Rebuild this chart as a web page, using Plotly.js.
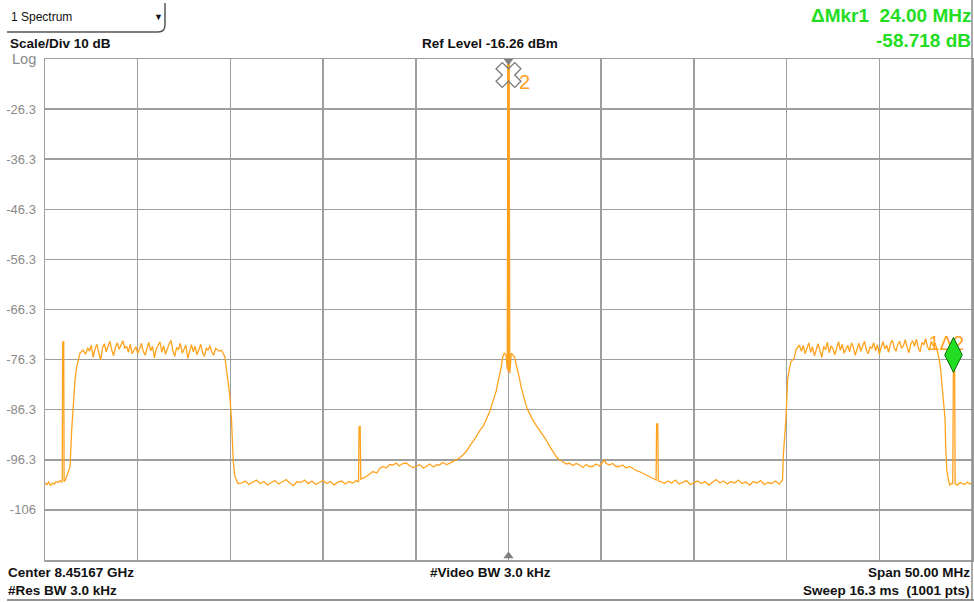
<!DOCTYPE html>
<html>
<head>
<meta charset="utf-8">
<script src="https://cdn.plot.ly/plotly-3.0.1.min.js"></script>
<style>
  html, body { margin: 0; padding: 0; background: #ffffff; overflow: hidden; }
  #chart { width: 974px; height: 602px; }
</style>
</head>
<body>
<div id="chart"></div>
<script>
// ---- Instrument settings ----
const refLevelDbm = -16.26;
const dbPerDiv = 10;
const spanMHz = 50;

// ---- Markers ----
const marker2MHz = 0.00;      // carrier peak (reference marker)
const marker2Dbm = -16.602;
const marker1MHz = 24.00;     // delta marker
const marker1Dbm = -75.320;
const carrierNotchDbm = -78.6; // bottom of the carrier line inside the phase-noise skirt

// ---- Y tick labels (one per graticule line below the reference) ----
const yTickValues = [-26.26, -36.26, -46.26, -56.26, -66.26, -76.26, -86.26, -96.26, -106.26];
const yTickLabels = ['-26.3', '-36.3', '-46.3', '-56.3', '-66.3', '-76.3', '-86.3', '-96.3', '-106'];
const xGridMHz = [-20, -15, -10, -5, 0, 5, 10, 15, 20];

// ---- Trace: [offset from centre MHz, level dBm] ----
const lowerFloor = [
  [-25.0,-100.9],[-24.9,-101.2],[-24.8,-100.7],[-24.7,-101.4],[-24.6,-100.9],[-24.5,-101.1],
  [-24.4,-100.6],[-24.3,-100.8],[-24.2,-100.4],[-24.1,-100.7],[-24.07,-100.5],
  [-24.05,-72.75],[-23.99,-72.75],[-23.97,-100.6],[-23.90,-100.3]
];
const lowerChannel = [
  [-23.83,-99.6],[-23.65,-97.64],[-23.56,-90.3],[-23.48,-84.9],[-23.38,-80.3],[-23.29,-77.7],
  [-23.21,-76.7],[-23.11,-74.95],[-22.95,-74.35],
  [-22.8,-75.2],[-22.7,-73.9],[-22.6,-74.6],[-22.5,-73.4],[-22.4,-75.8],[-22.3,-74.1],[-22.2,-73.2],
  [-22.1,-74.9],[-22.0,-76.3],[-21.9,-74.0],[-21.8,-73.1],[-21.7,-74.7],[-21.6,-73.5],[-21.5,-72.6],
  [-21.4,-74.3],[-21.3,-75.5],[-21.2,-73.8],[-21.1,-72.9],[-21.0,-74.2],[-20.9,-73.3],[-20.8,-72.5],
  [-20.7,-74.0],[-20.6,-73.6],[-20.5,-74.8],[-20.4,-73.2],[-20.3,-75.1],[-20.2,-74.4],[-20.1,-73.7],
  [-20.0,-75.0],[-19.9,-74.2],[-19.8,-73.0],[-19.7,-74.6],[-19.6,-75.4],[-19.5,-73.9],[-19.4,-72.8],
  [-19.3,-74.5],[-19.2,-73.6],[-19.1,-75.9],[-19.0,-74.1],[-18.9,-73.4],[-18.8,-72.7],[-18.7,-74.8],
  [-18.6,-73.5],[-18.5,-75.2],[-18.4,-74.0],[-18.3,-73.1],[-18.2,-72.4],[-18.1,-74.6],[-18.0,-75.6],
  [-17.9,-73.8],[-17.8,-74.3],[-17.7,-73.0],[-17.6,-75.0],[-17.5,-74.1],[-17.4,-73.4],[-17.3,-76.0],
  [-17.2,-74.5],[-17.1,-73.3],[-17.0,-74.7],[-16.9,-73.6],[-16.8,-75.3],[-16.7,-74.2],[-16.6,-73.2],
  [-16.5,-74.9],[-16.4,-75.6],[-16.3,-73.9],[-16.2,-74.4],[-16.1,-73.5],[-16.0,-74.8],[-15.9,-75.4],
  [-15.8,-74.0],[-15.7,-74.3],[-15.6,-74.6],
  [-15.48,-74.35],[-15.30,-75.7],[-15.12,-80.9],[-15.03,-83.6],[-14.94,-88.3],[-14.85,-96.3],
  [-14.76,-99.6],[-14.59,-101.0]
];
const innerFloorLow = [
  [-14.4,-100.9],[-14.2,-100.5],[-14.0,-101.2],[-13.8,-100.7],[-13.6,-100.3],[-13.4,-101.0],
  [-13.2,-100.6],[-13.0,-101.3],[-12.8,-100.8],[-12.6,-100.4],[-12.4,-101.1],[-12.2,-100.7],
  [-12.0,-100.2],[-11.8,-100.9],[-11.6,-101.4],[-11.4,-100.6],[-11.2,-100.8],[-11.0,-100.3],
  [-10.8,-101.0],[-10.6,-100.5],[-10.4,-101.2],[-10.2,-100.8],[-10.0,-100.4],[-9.8,-101.0],
  [-9.6,-100.6],[-9.4,-101.3],[-9.2,-100.7],[-9.0,-100.5],[-8.8,-101.1],[-8.6,-100.6],
  [-8.4,-100.9],[-8.2,-100.4],[-8.09,-100.7],
  [-8.06,-89.65],[-8.00,-89.65],[-7.97,-100.2]
];
const carrierRegion = [
  [-7.9,-100.0],[-7.67,-99.6],[-7.5,-99.2],[-7.31,-98.6],[-7.1,-98.9],[-6.95,-98.0],[-6.77,-97.6],
  [-6.6,-97.9],[-6.4,-97.2],[-6.23,-97.3],[-6.05,-96.9],[-5.9,-97.5],[-5.7,-97.0],[-5.51,-96.9],
  [-5.35,-97.4],[-5.15,-97.8],[-4.97,-97.6],[-4.8,-97.2],[-4.6,-97.9],[-4.43,-97.6],[-4.25,-97.1],
  [-4.05,-97.7],[-3.9,-97.3],[-3.72,-97.3],[-3.55,-96.8],[-3.35,-97.2],[-3.18,-96.96],[-3.0,-96.6],
  [-2.82,-96.3],[-2.64,-95.9],[-2.46,-95.3],[-2.28,-94.6],[-2.10,-93.6],[-1.92,-92.7],[-1.74,-91.65],
  [-1.56,-90.5],[-1.38,-89.65],[-1.25,-88.6],[-1.12,-87.65],[-1.0,-86.5],[-0.93,-85.65],[-0.84,-84.6],
  [-0.75,-83.66],[-0.66,-82.5],[-0.58,-81.0],[-0.48,-79.4],[-0.39,-77.7],[-0.31,-75.68],[-0.22,-75.0],
  [-0.13,-75.3],[-0.07,-78.2],
  [-0.03,marker2Dbm],[0.03,marker2Dbm],
  [0.07,-79.0],[0.15,-75.0],[0.32,-75.7],[0.50,-78.3],[0.59,-80.0],[0.68,-81.7],[0.77,-83.1],
  [0.86,-84.3],[0.95,-85.4],[1.04,-86.3],[1.17,-87.4],[1.31,-88.3],[1.49,-89.4],[1.67,-90.3],
  [1.85,-91.3],[2.03,-92.3],[2.21,-93.5],[2.39,-94.6],[2.57,-95.6],[2.75,-96.3],[2.93,-96.6],
  [3.11,-97.1],[3.29,-96.96],[3.47,-97.4],[3.65,-97.0],[3.83,-97.3],[4.01,-97.8],[4.19,-97.2],
  [4.37,-97.6],[4.54,-97.6],[4.72,-97.1],[4.90,-97.5],[5.08,-96.8],[5.18,-96.3],[5.26,-96.96],
  [5.44,-97.3],[5.62,-97.0],[5.80,-97.6],[5.98,-97.6],[6.16,-97.3],[6.34,-97.9],[6.52,-97.6],
  [6.70,-97.95],[6.88,-98.4],[7.06,-98.6],[7.24,-98.95],[7.42,-99.3],[7.60,-99.7],[7.77,-99.95],
  [7.90,-100.2],[7.96,-100.3],
  [7.99,-89.1],[8.05,-89.1],[8.08,-100.5]
];
const innerFloorHigh = [
  [8.2,-100.6],[8.4,-101.0],[8.6,-100.5],[8.8,-100.9],[9.0,-100.3],[9.2,-101.1],[9.4,-100.7],
  [9.6,-100.4],[9.8,-101.2],[10.0,-100.8],[10.2,-100.5],[10.4,-101.0],[10.6,-100.6],[10.8,-101.3],
  [11.0,-100.7],[11.2,-100.2],[11.4,-100.9],[11.6,-100.5],[11.8,-101.1],[12.0,-100.6],[12.2,-100.9],
  [12.4,-100.3],[12.6,-101.0],[12.8,-100.7],[13.0,-101.3],[13.2,-100.6],[13.4,-100.9],[13.6,-100.4],
  [13.8,-101.2],[14.0,-100.8],[14.2,-101.0],[14.4,-100.5],[14.6,-101.1],[14.78,-100.3]
];
const upperChannel = [
  [14.83,-94.97],[14.91,-91.65],[14.96,-88.3],[15.02,-83.7],[15.05,-80.3],[15.14,-78.3],
  [15.23,-76.7],[15.41,-76.0],[15.50,-74.35],[15.68,-73.35],
  [15.8,-74.6],[15.9,-73.4],[16.0,-75.1],[16.1,-74.0],[16.2,-72.9],[16.3,-74.8],[16.4,-73.7],
  [16.5,-75.5],[16.6,-74.2],[16.7,-73.1],[16.8,-74.5],[16.9,-75.8],[17.0,-73.6],[17.1,-74.3],
  [17.2,-72.8],[17.3,-74.9],[17.4,-73.5],[17.5,-74.1],[17.6,-75.3],[17.7,-73.9],[17.8,-72.7],
  [17.9,-74.4],[18.0,-73.2],[18.1,-75.0],[18.2,-74.0],[18.3,-73.4],[18.4,-74.7],[18.5,-72.9],
  [18.6,-73.8],[18.7,-75.4],[18.8,-74.2],[18.9,-73.0],[19.0,-74.6],[19.1,-73.5],[19.2,-72.6],
  [19.3,-74.3],[19.4,-75.1],[19.5,-73.7],[19.6,-74.0],[19.7,-72.9],[19.8,-74.5],[19.9,-73.3],
  [20.0,-75.2],[20.1,-73.8],[20.2,-72.7],[20.3,-74.1],[20.4,-73.4],[20.5,-74.8],[20.6,-73.0],
  [20.7,-72.4],[20.8,-73.9],[20.9,-74.6],[21.0,-73.2],[21.1,-72.6],[21.2,-74.0],[21.3,-73.5],
  [21.4,-72.3],[21.5,-73.8],[21.6,-74.9],[21.7,-73.1],[21.8,-72.5],[21.9,-73.6],[22.0,-72.2],
  [22.1,-73.9],[22.2,-74.7],[22.3,-72.8],[22.4,-73.3],[22.5,-72.1],[22.6,-73.7],[22.7,-74.4],
  [22.8,-72.6],[22.9,-73.5],[23.0,-72.9],[23.1,-74.1],[23.22,-76.0],
  [23.31,-78.3],[23.40,-81.7],[23.49,-85.7],[23.55,-88.3],[23.58,-93.6],[23.64,-98.3],
  [23.73,-100.3],[23.80,-101.3],[23.91,-100.95],[23.96,-101.1]
];
const upperFloor = [
  [marker1MHz,marker1Dbm],[24.06,marker1Dbm],[24.09,-101.0],
  [24.21,-101.3],[24.35,-100.8],[24.48,-100.95],[24.62,-101.2],[24.75,-100.7],[24.88,-101.1],[25.0,-100.9]
];

const sweep = [].concat(lowerFloor, lowerChannel, innerFloorLow, carrierRegion, innerFloorHigh, upperChannel, upperFloor);
const traceMHz = sweep.map(p => p[0]);
const traceDbm = sweep.map(p => p[1]);

// ---- Page geometry (pixels) used for the text panels around the graticule ----
const W = 974, H = 602, L = 45, R = 972, T = 59, B = 560;
const px = x => (x - L) / (R - L);
const py = y => (B - y) / (B - T);

const FONT = 'Liberation Sans, Arial, Helvetica, sans-serif';
const ORANGE = '#FFA31F';
const GREEN = '#22DD22';
const GRID = '#9e9e9e';

const xMin = -spanMHz / 2, xMax = spanMHz / 2;
const yMin = refLevelDbm - dbPerDiv * 10;
const yMax = refLevelDbm;
// marker glyph hangs just below the peak it marks
const glyphDrop = 2.85;
// delta-marker label sits slightly left of its marker
const labelLead = 0.38;

const traces = [
  {
    x: traceMHz, y: traceDbm, type: 'scatter', mode: 'lines',
    line: { color: ORANGE, width: 1.3 }, hoverinfo: 'skip'
  },
  {
    // carrier line, drawn solid over the centre graticule line
    x: [marker2MHz, marker2MHz], y: [carrierNotchDbm, marker2Dbm], type: 'scatter', mode: 'lines',
    line: { color: ORANGE, width: 2.4 }, hoverinfo: 'skip'
  },
  {
    // reference marker glyph (hollow X) on the carrier
    x: [marker2MHz], y: [marker2Dbm], yaxis: 'y2', type: 'scatter', mode: 'markers',
    marker: { symbol: 'x-open', size: 22, color: '#7a7a7a', line: { color: '#7a7a7a', width: 1.3 } },
    cliponaxis: false, hoverinfo: 'skip'
  },
  {
    // peak indicator
    x: [marker2MHz], y: [marker2Dbm], type: 'scatter', mode: 'markers',
    marker: { symbol: 'triangle-down', size: 9, color: '#808080' },
    cliponaxis: false, hoverinfo: 'skip'
  },
  {
    // centre-frequency indicator on the bottom edge
    x: [0], y: [yMin], type: 'scatter', mode: 'markers', yaxis: 'y3',
    marker: { symbol: 'triangle-up', size: 9, color: '#808080' },
    cliponaxis: false, hoverinfo: 'skip'
  },
  {
    // delta marker label, sitting under the marker glyph
    x: [marker1MHz], y: [marker1Dbm], xaxis: 'x2', type: 'scatter', mode: 'text',
    text: ['1Δ2'], textposition: 'top center',
    textfont: { family: FONT, size: 20, color: ORANGE },
    cliponaxis: false, hoverinfo: 'skip'
  },
  {
    // delta marker 1
    x: [marker1MHz], y: [marker1Dbm], xaxis: 'x3', type: 'scatter', mode: 'markers',
    marker: { symbol: 'diamond-tall', size: 25, color: GREEN, line: { color: '#0a6a0a', width: 1 } },
    cliponaxis: false, hoverinfo: 'skip'
  }
];

const deltaMHz = (marker1MHz - marker2MHz).toFixed(2);
const deltaDb = (marker1Dbm - marker2Dbm).toFixed(3);

const BOLD = { family: FONT, size: 13.5, color: '#111111', weight: 'bold' };
const GREEN_FONT = { family: FONT, size: 19, color: GREEN, weight: 'bold' };

function label(text, x, y, anchor, font) {
  return {
    text: text, xref: 'paper', yref: 'paper', x: px(x), y: py(y),
    xanchor: anchor, yanchor: 'middle', showarrow: false, borderpad: 0,
    font: font || BOLD
  };
}

const annotations = [
  label('1 Spectrum', 10, 17, 'left', { family: FONT, size: 12, color: '#111' }),
  label('▼', 158, 17, 'center', { family: FONT, size: 9, color: '#111' }),
  label('Scale/Div 10 dB', 9, 43, 'left'),
  label('Log', 11, 59, 'left', { family: FONT, size: 14.5, color: '#8a8a8a' }),
  label('Ref Level ' + refLevelDbm.toFixed(2) + ' dBm', 490, 43, 'center'),
  label('ΔMkr1  ' + deltaMHz + ' MHz', 972, 16, 'right', GREEN_FONT),
  label(deltaDb + ' dB', 972, 40, 'right', GREEN_FONT),
  label('Center 8.45167 GHz', 7, 572, 'left'),
  label('#Res BW 3.0 kHz', 7, 590, 'left'),
  label('#Video BW 3.0 kHz', 490, 572, 'center'),
  label('Span ' + spanMHz.toFixed(2) + ' MHz', 971, 572, 'right'),
  label('Sweep 16.3 ms  (1001 pts)', 971, 590, 'right'),
  {
    text: '2', x: marker2MHz, y: marker2Dbm, xref: 'x', yref: 'y', showarrow: false,
    xanchor: 'center', yanchor: 'middle', xshift: 16, yshift: -21,
    font: { family: FONT, size: 20, color: ORANGE }
  }
];

const shapes = [
  {
    // selector box outline
    type: 'path', xref: 'paper', yref: 'paper',
    path: 'M ' + px(7) + ',' + py(32) + ' L ' + px(158) + ',' + py(32) +
          ' Q ' + px(165) + ',' + py(32) + ' ' + px(165) + ',' + py(25) +
          ' L ' + px(165) + ',' + py(3),
    line: { color: '#555555', width: 1.5 }
  },
  { type: 'line', xref: 'paper', yref: 'paper', x0: 1, x1: 1, y0: py(600), y1: py(0),
    line: { color: '#8c8c8c', width: 1.5 } },
  { type: 'line', xref: 'paper', yref: 'paper', x0: px(7), x1: px(974), y0: py(600), y1: py(600),
    line: { color: '#6e6e6e', width: 1.5 } }
];

const layout = {
  width: W, height: H,
  margin: { l: L, r: W - R, t: T, b: H - B, pad: 0 },
  paper_bgcolor: '#ffffff', plot_bgcolor: '#ffffff',
  showlegend: false,
  font: { family: FONT },
  xaxis: {
    range: [xMin, xMax], fixedrange: true,
    tickmode: 'array', tickvals: xGridMHz, showticklabels: false, ticks: '',
    showgrid: true, gridcolor: GRID, gridwidth: 1.5, zeroline: false,
    showline: true, mirror: true, linecolor: GRID, linewidth: 1.5
  },
  xaxis2: { overlaying: 'x', range: [xMin + labelLead, xMax + labelLead], visible: false, fixedrange: true },
  xaxis3: { overlaying: 'x', range: [xMin, xMax], visible: false, fixedrange: true },
  yaxis: {
    range: [yMin, yMax], fixedrange: true,
    tickmode: 'array', tickvals: yTickValues, ticktext: yTickLabels,
    ticks: 'outside', ticklen: 5, tickcolor: 'rgba(0,0,0,0)',
    tickfont: { family: FONT, size: 13, color: '#8a8a8a' },
    showgrid: true, gridcolor: GRID, gridwidth: 1.5, zeroline: false,
    showline: true, mirror: true, linecolor: GRID, linewidth: 1.5
  },
  yaxis2: {
    overlaying: 'y', range: [yMin + glyphDrop, yMax + glyphDrop], visible: false, fixedrange: true
  },
  yaxis3: {
    overlaying: 'y', range: [yMin - 0.8, yMax - 0.8], visible: false, fixedrange: true
  },
  annotations: annotations,
  shapes: shapes
};

Plotly.newPlot('chart', traces, layout, { staticPlot: true, displayModeBar: false });
</script>
</body>
</html>
